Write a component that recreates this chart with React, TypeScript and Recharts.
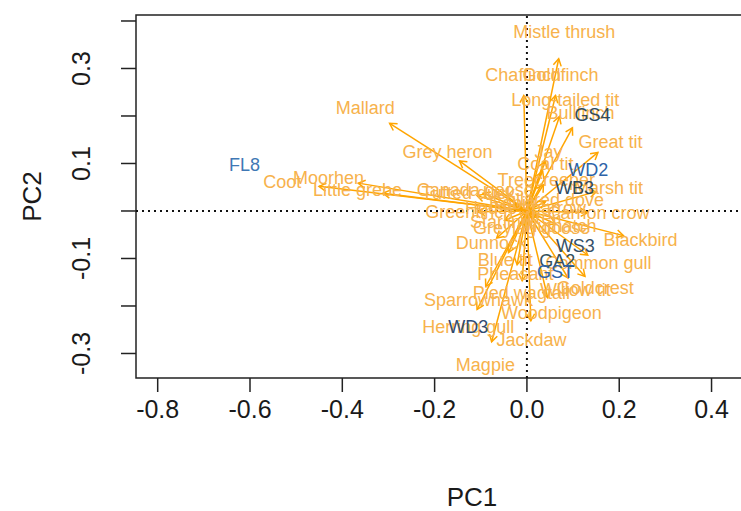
import React from 'react';
import { ScatterChart, Scatter, XAxis, YAxis, ReferenceLine, ReferenceArea } from 'recharts';

// ---- data (PC1 / PC2 loadings of species, scores of sites) ----
const speciesNames = [
  'Mistle thrush', 'Chaffinch', 'Goldfinch', 'Long-tailed tit', 'Bullfinch', 'Great tit',
  'Jay', 'Coal tit', 'Treecreeper', 'Marsh tit', 'Mallard', 'Grey heron', 'Coot', 'Moorhen',
  'Little grebe', 'Canada goose', 'Tufted duck', 'Greenfinch', 'Carrion crow', 'Greylag goose',
  'Blackbird', 'Dunnock', 'Blue tit', 'Common gull', 'Pheasant', 'Goldcrest', 'Willow tit',
  'Pied wagtail', 'Sparrowhawk', 'Woodpigeon', 'Herring gull', 'Jackdaw', 'Magpie',
  'Robin', 'Wren', 'Starling', 'House sparrow', 'Collared dove', 'Nuthatch',
];
const speciesPC1 = [
  0.081, -0.008, 0.073, 0.083, 0.116, 0.181,
  0.047, 0.040, 0.042, 0.177, -0.350, -0.172, -0.530, -0.430,
  -0.367, -0.112, -0.127, -0.125, 0.155, 0.010,
  0.246, -0.077, -0.047, 0.155, -0.025, 0.148, 0.105,
  -0.012, -0.105, 0.053, -0.127, 0.010, -0.090,
  -0.031, 0.029, -0.057, -0.003, 0.047, 0.073,
];
const speciesPC2 = [
  0.377, 0.286, 0.286, 0.234, 0.206, 0.145,
  0.124, 0.099, 0.065, 0.048, 0.217, 0.124, 0.061, 0.069,
  0.044, 0.044, 0.038, -0.002, -0.004, -0.036,
  -0.061, -0.067, -0.103, -0.109, -0.133, -0.162, -0.166,
  -0.173, -0.187, -0.215, -0.244, -0.272, -0.324,
  0.017, -0.015, -0.023, 0.006, 0.023, -0.032,
];

const siteNames = ['FL8', 'GS4', 'WD2', 'WB3', 'WS3', 'GA2', 'GST', 'WD3'];
const sitePC1 = [-0.612, 0.142, 0.133, 0.103, 0.105, 0.066, 0.062, -0.127];
const sitePC2 = [0.097, 0.202, 0.086, 0.048, -0.074, -0.105, -0.128, -0.244];

const xTicks = [-0.8, -0.6, -0.4, -0.2, 0.0, 0.2, 0.4];
const xTickLabels = ['-0.8', '-0.6', '-0.4', '-0.2', '0.0', '0.2', '0.4'];
const yTicks = [-0.3, -0.2, -0.1, 0.0, 0.1, 0.2, 0.3, 0.4];
const yTickLabels = ['-0.3', '', '-0.1', '', '0.1', '', '0.3', ''];

const arrowShrink = 0.85;

// ---- styles ----
const FONT = '"Liberation Sans", Arial, Helvetica, sans-serif';
const ORANGE = '#FFA500';
const LABEL_ORANGE = '#F7B24C';
const siteColor: Record<string, string> = {
  FL8: '#3F78B5', GS4: '#2E4A5E', WD2: '#2D63A8', WB3: '#2E4A5E',
  WS3: '#34506A', GA2: '#33505C', GST: '#2D63A8', WD3: '#2E4B74',
};

const X_DOMAIN: [number, number] = [-0.847, 0.609];
const Y_DOMAIN: [number, number] = [-0.3516, 0.4126];

const species = speciesNames.map((name, i) => ({ name, x: speciesPC1[i], y: speciesPC2[i] }));
const sites = siteNames.map((name, i) => ({ name, x: sitePC1[i], y: sitePC2[i] }));

const Arrow = (props: any) => {
  const { x1, y1, x2, y2 } = props;
  const ang = Math.atan2(y2 - y1, x2 - x1);
  const L = 8;
  const a = Math.PI / 6;
  const p1x = x2 - L * Math.cos(ang - a);
  const p1y = y2 - L * Math.sin(ang - a);
  const p2x = x2 - L * Math.cos(ang + a);
  const p2y = y2 - L * Math.sin(ang + a);
  return (
    <g>
      <line x1={x1} y1={y1} x2={x2} y2={y2} stroke={ORANGE} strokeWidth={1.5} />
      <polyline points={`${p1x},${p1y} ${x2},${y2} ${p2x},${p2y}`} fill="none" stroke={ORANGE} strokeWidth={1.5} />
    </g>
  );
};

const SpeciesLabel = (props: any) => {
  const { cx, cy, payload } = props;
  return (
    <text x={cx} y={cy} textAnchor="middle" dominantBaseline="central" fontFamily={FONT} fontSize={18} fill={LABEL_ORANGE}>
      {payload.name}
    </text>
  );
};

const SiteLabel = (props: any) => {
  const { cx, cy, payload } = props;
  return (
    <text x={cx} y={cy} textAnchor="middle" dominantBaseline="central" fontFamily={FONT} fontSize={18} fill={siteColor[payload.name] || '#2E4A5E'}>
      {payload.name}
    </text>
  );
};

const XTick = (props: any) => {
  const { x, y, payload } = props;
  const idx = xTicks.findIndex((t) => Math.abs(t - payload.value) < 1e-9);
  return (
    <text x={x} y={y} dy={13} textAnchor="middle" dominantBaseline="central" fontFamily={FONT} fontSize={25} fill="#1a1a1a">
      {idx >= 0 ? xTickLabels[idx] : ''}
    </text>
  );
};

const YTick = (props: any) => {
  const { x, y, payload } = props;
  const idx = yTicks.findIndex((t) => Math.abs(t - payload.value) < 1e-9);
  const label = idx >= 0 ? yTickLabels[idx] : '';
  const tx = x - 36;
  return (
    <text x={tx} y={y} textAnchor="middle" dominantBaseline="central" fontFamily={FONT} fontSize={25} fill="#1a1a1a" transform={`rotate(-90, ${tx}, ${y})`}>
      {label}
    </text>
  );
};

const XTitle = (props: any) => {
  const vb = props.viewBox || {};
  return (
    <text x={vb.x + vb.width / 2} y={vb.y + 119} textAnchor="middle" dominantBaseline="central" fontFamily={FONT} fontSize={26} fill="#1a1a1a">
      PC1
    </text>
  );
};

const YTitle = (props: any) => {
  const vb = props.viewBox || {};
  const tx = 32;
  const ty = vb.y + vb.height / 2;
  return (
    <text x={tx} y={ty} textAnchor="middle" dominantBaseline="central" fontFamily={FONT} fontSize={26} fill="#1a1a1a" transform={`rotate(-90, ${tx}, ${ty})`}>
      PC2
    </text>
  );
};

export default function App() {
  return (
    <div style={{ position: 'absolute', left: 0, top: 0, width: 741, height: 511, overflow: 'hidden', background: '#fff' }}>
      <ScatterChart width={820} height={511} margin={{ top: 15, right: 12, bottom: 0, left: 0 }}>
        <XAxis
          type="number"
          dataKey="x"
          domain={X_DOMAIN}
          allowDataOverflow
          ticks={xTicks}
          interval={0}
          height={133}
          axisLine={false}
          tickLine={{ stroke: '#222', strokeWidth: 1.5 }}
          tickSize={14}
          tickMargin={4}
          tick={<XTick />}
          label={<XTitle />}
        />
        <YAxis
          type="number"
          dataKey="y"
          domain={Y_DOMAIN}
          allowDataOverflow
          ticks={yTicks}
          interval={0}
          width={136}
          axisLine={false}
          tickLine={{ stroke: '#222', strokeWidth: 1.5 }}
          tickSize={15}
          tickMargin={4}
          tick={<YTick />}
          label={<YTitle />}
        />
        <ReferenceArea x1={X_DOMAIN[0]} x2={X_DOMAIN[1]} y1={Y_DOMAIN[0]} y2={Y_DOMAIN[1]} fill="none" fillOpacity={0} stroke="#222" strokeWidth={1.5} ifOverflow="extendDomain" />
        <ReferenceLine x={0} stroke="#111" strokeWidth={2} strokeDasharray="2 4" />
        <ReferenceLine y={0} stroke="#111" strokeWidth={2} strokeDasharray="2 4" />
        <Scatter data={species} isAnimationActive={false} shape={<SpeciesLabel />} />
        {species.map((s) => (
          <ReferenceLine
            key={'arr-' + s.name}
            segment={[{ x: 0, y: 0 }, { x: s.x * arrowShrink, y: s.y * arrowShrink }]}
            shape={<Arrow />}
          />
        ))}
        <Scatter data={sites} isAnimationActive={false} shape={<SiteLabel />} />
      </ScatterChart>
    </div>
  );
}
